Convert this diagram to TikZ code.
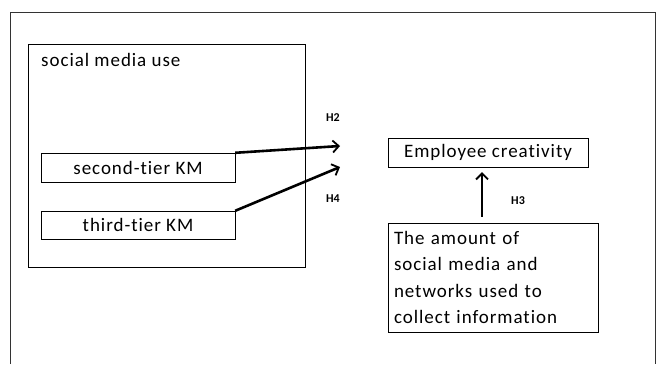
\documentclass[tikz,border=0pt]{standalone}
\usepackage{fontspec}
\setmainfont{Carlito}[LetterSpace=5, Ligatures={NoCommon}]
\newfontfamily\hfont{Carlito}
\usetikzlibrary{arrows.meta}

\tikzset{
  kmbox/.style={draw=black, thin, minimum width=194pt, minimum height=29pt, inner sep=0pt},
  hlabel/.style={font=\hfont\bfseries\fontsize{12}{13}\selectfont, inner sep=0pt},
  hyparrow/.style={draw=black, line width=2.6pt, -{Straight Barb[length=6pt,width=12pt,line width=1.8pt]}}
}

\begin{document}
\begin{tikzpicture}[x=1pt, y=-1pt, font=\fontsize{19}{26.3}\selectfont]
        \useasboundingbox (0,0) rectangle (661,364);

        % outer frame, open at the bottom
        \draw[draw=black!80, thin] (10,364) -- (10,12) -- (655,12) -- (655,364);

        % social media use
        \draw[draw=black, thin] (28,44) rectangle (305,267);
        \node[anchor=west, inner sep=0pt] (smuse) at (41,60) {social media use};
        \node[kmbox] (second) at (138,167.5) {second-tier KM};
        \node[kmbox, minimum height=28pt] (third) at (138,225) {third-tier KM};

        % outcome side
        \node[draw=black, thin, minimum width=200pt, minimum height=29pt, inner sep=0pt] (creat) at (488,152.5) {Employee creativity};
        \node[draw=black, thin, minimum width=210pt, minimum height=109pt, text width=198pt, align=left, inner sep=0pt] (amount) at (493,277.5)
            {The amount of\\social media and\\networks used to\\collect information};

        \coordinate (h2end) at (340,146);
        \coordinate (h4end) at (340,167);

        \draw[hyparrow] (second.north east) -- (h2end);
        \draw[hyparrow] (third.north east) -- (h4end);
        \draw[hyparrow, shorten <=6pt, shorten >=5pt] ([xshift=-11pt]amount.north) -- ([xshift=-6pt]creat.south);

        \node[hlabel] (h2) at (333,118) {H2};
        \node[hlabel] (h4) at (333,199) {H4};
        \node[hlabel] (h3) at (518,201) {H3};
\end{tikzpicture}
\end{document}
